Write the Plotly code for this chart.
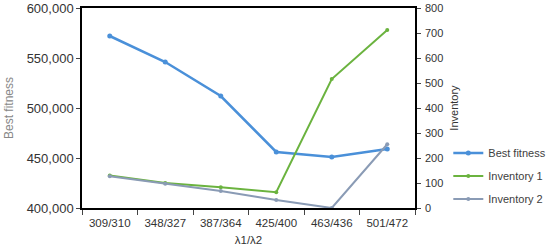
import plotly.graph_objects as go

categories = ["309/310", "348/327", "387/364", "425/400", "463/436", "501/472"]
best_fitness = [572000, 546000, 512000, 456000, 451000, 459000]
inventory_1 = [130, 100, 83, 63, 516, 712]
inventory_2 = [127, 97, 68, 32, 0, 255]

fig = go.Figure()
fig.add_trace(go.Scatter(x=categories, y=best_fitness, name="Best fitness", mode="lines+markers", legendgroup="a",
                         line=dict(color="#4A90D9", width=2.5), marker=dict(size=5, color="#4A90D9")))
fig.add_trace(go.Scatter(x=categories, y=inventory_1, name="Inventory 1", mode="lines+markers", yaxis="y2", legendgroup="b",
                         line=dict(color="#6BB33F", width=2), marker=dict(size=4, color="#6BB33F")))
fig.add_trace(go.Scatter(x=categories, y=inventory_2, name="Inventory 2", mode="lines+markers", yaxis="y2", legendgroup="c",
                         line=dict(color="#8A9BB5", width=2), marker=dict(size=4, color="#8A9BB5")))

fig.update_layout(
    width=550, height=248,
    margin=dict(l=82, r=135, t=8, b=40, autoexpand=False),
    paper_bgcolor="white", plot_bgcolor="white",
    font=dict(family="Liberation Sans, Arial", color="#333333"),
    showlegend=True,
    legend=dict(x=1.1, y=0.16, xanchor="left", yanchor="middle", font=dict(size=11, color="#404040"),
                tracegroupgap=4, itemwidth=30, bgcolor="rgba(0,0,0,0)"),
    xaxis=dict(type="category", range=[-0.5, 5.5], tickson="boundaries", ticks="outside", ticklen=5,
               ticklabelstandoff=3,
               showline=True, linecolor="black", linewidth=1.5, mirror=True, showgrid=False, automargin=False,
               tickfont=dict(size=11.5, color="#333333"),
               title=dict(text="λ1/λ2", font=dict(size=11.5, color="#333333"), standoff=8)),
    yaxis=dict(range=[400000, 600000], dtick=50000, tickformat=",d", ticks="outside", ticklen=4,
               showline=True, linecolor="black", linewidth=1.5, showgrid=False, zeroline=False, automargin=False,
               tickfont=dict(size=13, color="#333333"),
               title=dict(text="Best fitness", font=dict(size=12, color="#888888"), standoff=10)),
    yaxis2=dict(range=[0, 800], dtick=100, overlaying="y", side="right", ticks="outside", ticklen=4,
                ticklabelstandoff=2,
                showline=True, linecolor="black", linewidth=1.5, showgrid=False, zeroline=False, automargin=False,
                tickfont=dict(size=11, color="#333333"),
                title=dict(text="Inventory", font=dict(size=11, color="#333333"), standoff=8)),
)

fig.write_html("out.html", config={"displayModeBar": False},
               post_script="document.body.style.margin='0';")
